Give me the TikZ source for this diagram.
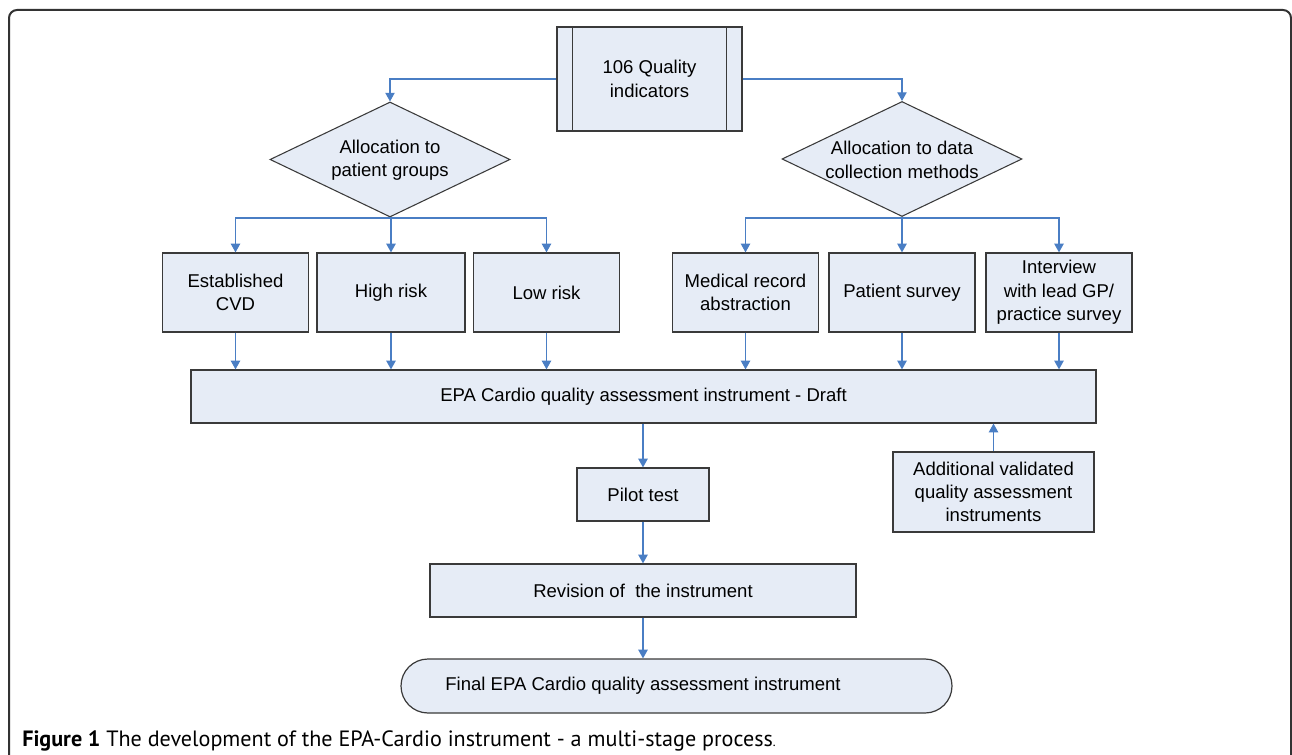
\documentclass[tikz,border=0pt]{standalone}
\usepackage{fontspec}
\setmainfont{Liberation Sans}
\newfontfamily\capfont{PT Sans}
\usetikzlibrary{arrows.meta,shapes.geometric,shapes.misc}
\definecolor{boxfill}{HTML}{E6ECF6}
\definecolor{boxline}{HTML}{3A3A3A}
\definecolor{arrblue}{HTML}{4A7EC4}
\definecolor{framec}{HTML}{333333}
\tikzset{
  box/.style={draw=boxline, fill=boxfill, line width=0.9pt, inner sep=0pt, align=center,
    font=\fontsize{13.9}{17.5}\selectfont},
  dia/.style={diamond, draw=boxline, fill=boxfill, line width=0.8pt, inner sep=0pt, aspect=2.09,
    minimum width=180pt, minimum height=86.25pt},
  lbl/.style={align=center, inner sep=0pt, font=\fontsize{13.9}{17.5}\selectfont},
  conn/.style={draw=arrblue, line width=0.9pt},
  arr/.style={conn, -{Triangle[length=6.5pt,width=7pt]}},
}
\begin{document}
\begin{tikzpicture}[x=0.75pt,y=-0.75pt]
\useasboundingbox (0,0) rectangle (1292,755);
% outer frame
\draw[framec, line width=1.5pt, rounded corners=6pt] (9,780) -- (9,10) -- (1291,10) -- (1291,780);

% top predefined process
\node[box, minimum width=138.75pt, minimum height=78pt] (q) at (649.5,79) {106 Quality\\indicators};
\draw[boxline, line width=0.9pt] ([xshift=12pt]q.north west) -- ([xshift=12pt]q.south west);
\draw[boxline, line width=0.9pt] ([xshift=-12pt]q.north east) -- ([xshift=-12pt]q.south east);

% diamonds
\node[dia] (d1) at (390,159.5) {};
\node[lbl] (d1t) at (390,160) {Allocation to\\patient groups};
\node[dia] (d2) at (902,159) {};
\node[lbl] (d2t) at (902,160) {Allocation to data\\collection methods};

% row boxes
\tikzset{rowbox/.style={box, minimum width=109.5pt, minimum height=59.25pt}}
\node[rowbox] (e1) at (235.5,292.5) {Established\\CVD};
\node[rowbox, minimum width=111pt] (e2) at (391,292.5) {High risk};
\node[rowbox] (e3) at (546.5,292.5) {Low risk};
\node[rowbox] (m1) at (745.5,292.5) {Medical record\\abstraction};
\node[rowbox] (m2) at (902,292.5) {Patient survey};
\node[rowbox] (m3) at (1059,292.5) {Interview\\with lead GP/\\practice survey};

% draft
\node[box, minimum width=678.75pt, minimum height=39.75pt] (draft) at (643.5,396.5) {EPA Cardio quality assessment instrument - Draft};

% pilot, additional, revision
\node[box, minimum width=99pt, minimum height=39.75pt] (pilot) at (643,494.5) {Pilot test};
\node[box, minimum width=150.75pt, minimum height=60pt] (add) at (993.5,492) {Additional validated\\quality assessment\\instruments};
\node[box, minimum width=319.5pt, minimum height=39.75pt] (rev) at (643,590.5) {Revision of \ the instrument};

% final terminal
\node[rounded rectangle, draw=boxline, fill=boxfill, line width=0.9pt, inner sep=0pt,
  minimum width=413.25pt, minimum height=40.5pt] (fin) at (676.5,686) {};
\node[lbl] (fint) at (643,686) {Final EPA Cardio quality assessment instrument};

% connectors
\draw[arr] (q.west) -| (d1.north);
\draw[arr] (q.east) -| (d2.north);

\coordinate (b1) at (390,218);
\coordinate (b2) at (902,218);
\draw[conn] (d1.south) -- (b1);
\draw[conn] (d2.south) -- (b2);
\draw[arr] (b1) -| (e1.north);
\draw[arr] (b1) -- (b1 -| e2.north) -- (e2.north);
\draw[arr] (b1) -| (e3.north);
\draw[arr] (b2) -| (m1.north);
\draw[arr] (b2) -- (m2.north);
\draw[arr] (b2) -| (m3.north);

\foreach \n in {e1,e2,e3,m1,m2,m3}{
  \draw[arr] (\n.south) -- (\n.south |- draft.north);
}
\draw[arr] (pilot.north |- draft.south) -- (pilot.north);
\draw[arr] (pilot.south) -- (rev.north);
\draw[arr] (rev.south) -- (rev.south |- fin.north);
\draw[arr] (add.north) -- (add.north |- draft.south);

% caption
\node[anchor=west, inner sep=0pt, font=\capfont\fontsize{16.6}{19}\selectfont] (cap) at (22,741)
  {\textbf{Figure 1} The development of the EPA-Cardio instrument - a multi-stage process{\fontsize{10}{11}\selectfont .}};
\end{tikzpicture}
\end{document}
